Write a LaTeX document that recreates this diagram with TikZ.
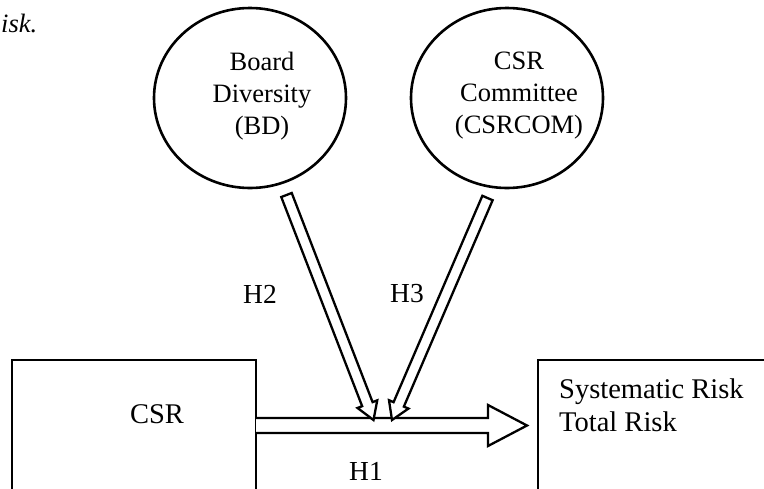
\documentclass[tikz,border=0pt]{standalone}
\usepackage{fontspec}
\setmainfont{Liberation Serif}
\usetikzlibrary{
  calc,
  shapes.geometric
}
\tikzset{
  factor/.style={draw,ellipse,line width=2.6pt,minimum width=192pt,minimum height=180pt,inner sep=0pt},
  factortext/.style={align=center,inner sep=0pt,font=\fontsize{26.5}{32}\selectfont},
  varbox/.style={draw,line width=2.3pt,inner sep=0pt,outer sep=0pt,minimum height=170pt},
  boxtext/.style={inner sep=0pt,align=left,font=\fontsize{28.5}{33}\selectfont},
  hyplabel/.style={inner sep=0pt,font=\fontsize{27.5}{32}\selectfont},
  blockline/.style={draw,fill=white,line width=2.3pt,line join=miter}
}
% hollow block arrow: start, tip, half shaft, half head, head length, closing
\newcommand\blockarrow[6]{%
  \coordinate (hb) at ($(#2)!#5!(#1)$);
  \draw[blockline] ($(#1)!#3!90:(#2)$) -- ($(hb)!#3!90:(#2)$) -- ($(hb)!#4!90:(#2)$) -- (#2)
    -- ($(hb)!#4!-90:(#2)$) -- ($(hb)!#3!-90:(#2)$) -- ($(#1)!#3!-90:(#2)$) #6;
}

\begin{document}
\begin{tikzpicture}[x=1pt,y=-1pt]
\useasboundingbox (0,0) rectangle (764,488);
\clip (0,0) rectangle (764,488);

\node[anchor=base west,inner sep=0pt,font=\fontsize{26.5}{32}\selectfont\itshape] (capt) at (1,32) {isk.};

\node[factor] (bd) at (250,98) {};
\node[factortext] (bdtext) at (262,96) {Board\\Diversity\\(BD)};
\node[factor] (com) at (507,98) {};
\node[factortext] (comtext) at (519,96) {CSR\\Committee\\(CSRCOM)};

\node[varbox,minimum width=244pt] (csrbox) at (134,445) {};
\node[boxtext] (csrtext) at (157,414) {CSR};
\node[varbox,minimum width=262pt] (riskbox) at (669,445) {};
\node[boxtext,anchor=north west] (risktext) at (559,379) {Systematic Risk\\Total Risk};

\coordinate (h1start) at (256,425.5);
\coordinate (h1tip) at (527,425.5);
\coordinate (h2start) at (286.5,195);
\coordinate (h2tip) at (373.5,420);
\coordinate (h3start) at (487.5,198);
\coordinate (h3tip) at (392,420);

\blockarrow{h1start}{h1tip}{7.5pt}{20.5pt}{39pt}{}
\blockarrow{h2start}{h2tip}{5.6pt}{10.6pt}{17pt}{-- cycle}
\blockarrow{h3start}{h3tip}{5.6pt}{10.6pt}{17pt}{-- cycle}

\node[hyplabel] (h2) at (260,294) {H2};
\node[hyplabel] (h3) at (407,294) {H3};
\node[hyplabel] (h1) at (366,471) {H1};
\end{tikzpicture}
\end{document}
